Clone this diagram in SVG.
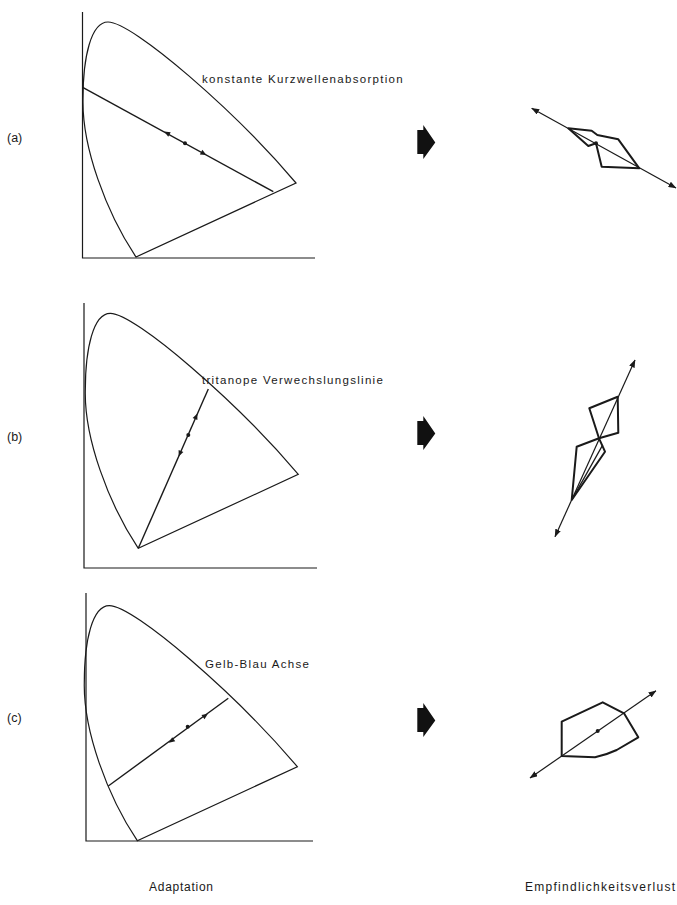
<svg xmlns="http://www.w3.org/2000/svg" width="677" height="905" viewBox="0 0 677 905">
<style>
.ax{fill:none;stroke:#1a1a1a;stroke-width:1.2}
.loc{fill:none;stroke:#1a1a1a;stroke-width:1.2}
.ln{fill:none;stroke:#1a1a1a;stroke-width:1.4}
.poly{fill:none;stroke:#1a1a1a;stroke-width:2;stroke-linejoin:round}
.rax{fill:none;stroke:#1a1a1a;stroke-width:1.2;marker-start:url(#ah);marker-end:url(#ah)}
.dot{fill:#1a1a1a}
.lbl{font-family:"Liberation Sans",Arial,sans-serif;font-size:11.5px;letter-spacing:1.3px;fill:#1a1a1a}
.side{font-family:"Liberation Sans",Arial,sans-serif;font-size:12.5px;fill:#1a1a1a}
.bot{font-family:"Liberation Sans",Arial,sans-serif;font-size:12px;fill:#1a1a1a}
.blk{fill:#111}
</style>
<defs>
<marker id="ah" viewBox="0 0 8 6" refX="7.5" refY="3" markerWidth="8" markerHeight="6" markerUnits="userSpaceOnUse" orient="auto-start-reverse">
<path d="M0,0 L8,3 L0,6 Z" fill="#1a1a1a"/>
</marker>
<path id="locus" d="M0,0 C-30,-45 -54,-110 -53,-158 C-53,-200 -45,-235 -28,-235 C-3,-235 100,-145 160,-74 Z"/>
<path id="tri" d="M3.5,0 L-2.5,-2.6 L-2.5,2.6 Z"/>
<path id="barrow" d="M0,5 L6,5 L6,0 L18,17.5 L6,34 L6,29 L0,29 Z"/>
</defs>

<g id="panel-a">
<path class="ax" d="M82.5,12 L82.5,258 L315,258"/>
<use href="#locus" class="loc" transform="translate(136,257)"/>
<line class="ln" x1="82.7" y1="87.3" x2="273.3" y2="191.7"/>
<use href="#tri" class="dot" transform="translate(167.3,133.3) rotate(208.7)"/>
<circle class="dot" cx="185" cy="143.3" r="2"/>
<use href="#tri" class="dot" transform="translate(203.3,153.3) rotate(28.7)"/>
<text class="lbl" x="202" y="83.3">konstante Kurzwellenabsorption</text>
<text class="side" x="7" y="141.5">(a)</text>
</g>

<g id="panel-b">
<path class="ax" d="M84,303 L84,568 L317,568"/>
<use href="#locus" class="loc" transform="translate(138.3,548.3)"/>
<line class="ln" x1="208.3" y1="389" x2="138.3" y2="548.3"/>
<use href="#tri" class="dot" transform="translate(196,416.7) rotate(293.7)"/>
<circle class="dot" cx="188.3" cy="435" r="2"/>
<use href="#tri" class="dot" transform="translate(180,453.3) rotate(113.7)"/>
<text class="lbl" x="202" y="384">tritanope Verwechslungslinie</text>
<text class="side" x="7" y="441">(b)</text>
</g>

<g id="panel-c">
<path class="ax" d="M86,593 L86,841 L313,841"/>
<use href="#locus" class="loc" transform="translate(137.3,840.7)"/>
<line class="ln" x1="108.3" y1="786" x2="228.3" y2="698.3"/>
<use href="#tri" class="dot" transform="translate(171.7,740.7) rotate(143.8)"/>
<circle class="dot" cx="187.7" cy="726.7" r="2"/>
<use href="#tri" class="dot" transform="translate(205,715.7) rotate(-36.2)"/>
<text class="lbl" x="205" y="667.7">Gelb-Blau Achse</text>
<text class="side" x="7" y="722">(c)</text>
</g>

<g id="arrows">
<use href="#barrow" class="blk" transform="translate(417.3,125)"/>
<use href="#barrow" class="blk" transform="translate(417.3,416)"/>
<use href="#barrow" class="blk" transform="translate(417.3,703)"/>
</g>

<g id="loss-a">
<line class="rax" x1="531.7" y1="108.3" x2="676" y2="188"/>
<polygon class="poly" points="568.3,128.3 591.7,130.7 597.3,135 618.3,139.3 639.3,168.3 601.7,166.7 596,143.3 588.3,146"/>
<circle class="dot" cx="596" cy="143.3" r="2"/>
</g>

<g id="loss-b">
<line class="rax" x1="635" y1="360" x2="555" y2="536.7"/>
<polygon class="poly" points="617.7,396.7 589.3,408.3 599,438.3 618.3,432.7"/>
<polygon class="poly" points="599,438.3 576.7,446.7 571.7,500 605,451.7"/>
<line class="ln" x1="571.7" y1="500" x2="602.7" y2="445"/>
</g>

<g id="loss-c">
<line class="rax" x1="530" y1="778" x2="656" y2="690.7"/>
<path class="poly" d="M561.7,756 L561.7,721.7 L602.7,702.3 L624,713.3 L638.3,737.3 L616.7,750 Q606,755 595,757.3 Z"/>
<circle class="dot" cx="597.7" cy="731" r="2"/>
</g>

<g id="captions">
<text class="bot" x="149" y="891" textLength="64" lengthAdjust="spacing">Adaptation</text>
<text class="bot" x="525" y="891" textLength="150" lengthAdjust="spacing">Empfindlichkeitsverlust</text>
</g>
</svg>
